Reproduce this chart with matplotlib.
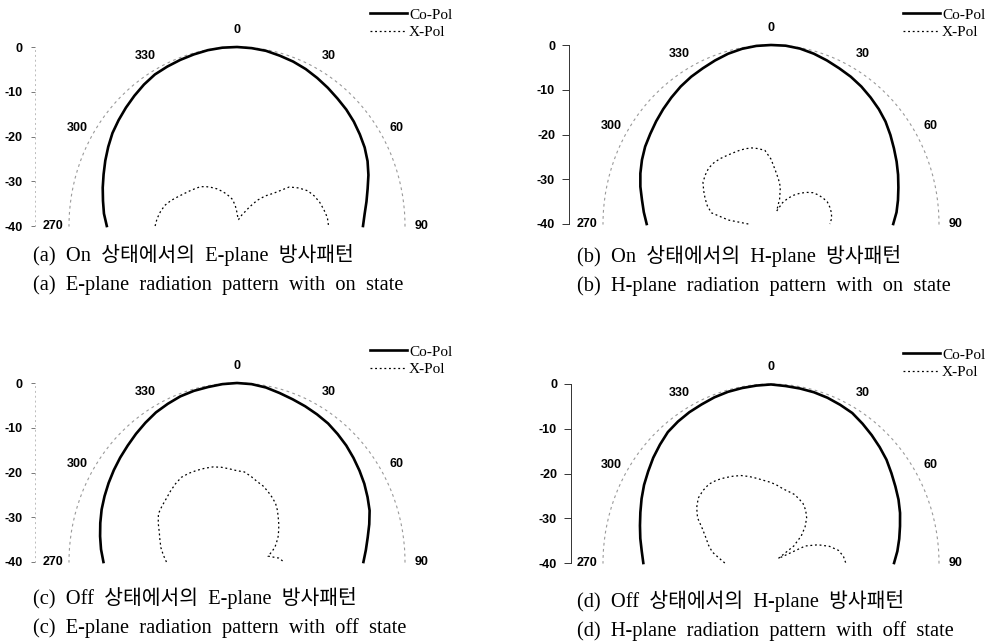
import numpy as np
import matplotlib.pyplot as plt

# angles (deg), 0 = boresight, negative = 270..360 side
angles = [-90, -85, -80, -75, -70, -65, -60, -55, -50, -45, -40, -35, -30,
          -25, -20, -15, -10, -5, 0, 5, 10, 15, 20, 25, 30, 35, 40, 45,
          50, 55, 60, 65, 70, 75, 80, 85, 90]

# Co-pol (dB)
co_a = [-9.0, -8.2, -7.6, -6.9, -6.2, -5.4, -4.6, -3.8, -3.2, -2.6,
        -2.0, -1.4, -0.9, -0.7, -0.5, -0.3, -0.1, 0.0, 0.0, -0.1,
        -0.25, -0.6, -0.9, -1.3, -1.8, -2.3, -2.8, -3.2, -3.7, -4.3,
        -4.9, -5.7, -6.7, -7.8, -8.7, -9.5, -10.0]
co_b = [-10.4, -9.6, -8.8, -7.8, -6.9, -6.1, -5.4, -4.9, -4.3, -3.7,
        -3.1, -2.5, -2.0, -1.6, -1.1, -0.6, -0.25, -0.05, 0.0, 0.0,
        -0.2, -0.6, -1.1, -1.6, -2.0, -2.5, -3.1, -3.7, -4.4, -5.3,
        -6.2, -7.0, -7.8, -8.6, -9.3, -10.0, -10.9]
co_c = [-8.2, -7.5, -6.9, -6.3, -5.7, -5.2, -4.7, -4.2, -3.7, -3.2,
        -2.6, -2.0, -1.4, -1.0, -0.6, -0.4, -0.3, -0.1, 0.0, -0.1,
        -0.4, -0.9, -1.3, -1.6, -1.9, -2.2, -2.7, -3.2, -3.8, -4.4,
        -5.0, -5.7, -6.4, -7.4, -8.4, -9.2, -9.9]
co_d = [-9.6, -9.1, -8.4, -7.7, -6.9, -6.0, -5.1, -4.3, -3.4, -2.6,
        -1.8, -1.4, -1.1, -0.9, -0.6, -0.4, -0.3, -0.2, -0.1, -0.3,
        -0.4, -0.5, -0.7, -1.0, -1.3, -2.0, -2.7, -3.4, -4.1, -5.0,
        -5.8, -6.5, -7.3, -8.2, -9.0, -9.8, -10.7]

# X-pol (dB)
xp_a = [-20.5, -20.9, -21.5, -22.2, -23.3, -24.5, -25.5, -26.3, -27.0, -27.6,
        -28.5, -29.5, -30.4, -31.4, -32.3, -33.2, -34.0, -35.5, -37.0, -38.0,
        -38.5, -38.5, -38.0, -37.3, -36.5, -34.8, -32.5, -30.5, -28.6, -24.8,
        -23.0, -21.4, -20.4, -19.6, -19.0, -18.4, -18.2]
xp_b = [-34.6, -29.8, -25.6, -24.3, -23.3, -22.3, -21.3, -20.9, -20.6, -20.7,
        -21.0, -21.4, -21.7, -21.9, -22.1, -22.4, -22.9, -23.5, -25.5, -28.0,
        -29.8, -31.4, -34.0, -36.8, -34.5, -33.0, -31.6, -30.3, -29.0, -27.8,
        -27.0, -26.3, -25.7, -25.5, -25.4, -25.5, -26.0]
xp_c = [-23.2, -22.4, -21.6, -21.0, -20.3, -19.3, -18.4, -18.2, -18.0, -17.6,
        -17.2, -16.9, -17.1, -17.4, -17.7, -18.0, -18.5, -19.1, -19.6, -19.8,
        -20.6, -21.4, -21.9, -22.6, -23.3, -24.0, -25.0, -26.1, -27.0, -27.9,
        -28.7, -29.6, -30.4, -31.5, -32.5, -30.0, -28.8]
xp_d = [-29.0, -27.6, -25.8, -24.6, -23.5, -22.0, -19.8, -18.4, -17.4, -17.1,
        -17.0, -17.4, -18.0, -18.6, -19.2, -20.0, -20.8, -21.5, -22.0, -22.6,
        -23.2, -23.5, -23.7, -24.2, -24.7, -25.6, -26.8, -28.5, -30.6, -33.4,
        -38.0, -31.0, -28.1, -25.6, -23.7, -22.7, -22.2]

theta_ticks = [-90, -60, -30, 0, 30, 60, 90]
theta_labels = ['270', '300', '330', '0', '30', '60', '90']
r_ticks = [0, -10, -20, -30, -40]

captions = [
    ("(a)  On  상태에서의  E-plane  방사패턴", "(a)  E-plane  radiation  pattern  with  on  state"),
    ("(b)  On  상태에서의  H-plane  방사패턴", "(b)  H-plane  radiation  pattern  with  on  state"),
    ("(c)  Off  상태에서의  E-plane  방사패턴", "(c)  E-plane  radiation  pattern  with  off  state"),
    ("(d)  Off  상태에서의  H-plane  방사패턴", "(d)  H-plane  radiation  pattern  with  off  state"),
]

W, H = 990, 641
serif = ['Liberation Serif', 'Noto Sans CJK KR']
sans_b = dict(family='Liberation Sans', weight='bold', size=9)

# panel layout in pixels (top-left origin): polar centre, scale x, legend anchor, caption pos
panels = [
    dict(co=co_a, xp=xp_a, c=(237, 226), sx=35, solid=False, leg=(370, 8), cap=(33, 255)),
    dict(co=co_b, xp=xp_b, c=(771, 224), sx=569, solid=True, leg=(903, 8), cap=(577, 256)),
    dict(co=co_c, xp=xp_c, c=(237, 562), sx=35, solid=False, leg=(370, 345), cap=(33, 598)),
    dict(co=co_d, xp=xp_d, c=(771, 563), sx=571, solid=True, leg=(903, 348), cap=(577, 601)),
]
A, B = 168, 179  # half-width, height of the half-disc (px)

fig = plt.figure(figsize=(W / 100, H / 100), dpi=100)

for p, cap in zip(panels, captions):
    cx, cy = p['c']
    # polar wedge bbox is padded to a square, so the half-disc sits in the middle half
    ax = fig.add_axes([(cx - A) / W, (H - cy - B / 2) / H, 2 * A / W, 2 * B / H],
                      projection='polar')
    ax.set_theta_zero_location('N')
    ax.set_theta_direction(-1)
    ax.set_thetamin(-90)
    ax.set_thetamax(90)
    ax.set_rlim(-40, 0)
    ax.set_aspect('auto')
    ax.grid(False)
    ax.set_xticks([])
    ax.set_yticks([])
    ax.patch.set_alpha(0)
    for s in ['start', 'end', 'inner']:
        ax.spines[s].set_color('none')
    ax.spines['polar'].set_linestyle((0, (1.5, 4)))
    ax.spines['polar'].set_color('#9a9a9a')
    ax.spines['polar'].set_linewidth(0.8)

    l1, = ax.plot(np.deg2rad(angles), p['co'], color='black', lw=1.9,
                  label='Co-Pol', clip_on=False, zorder=3)
    l2, = ax.plot(np.deg2rad(angles), p['xp'], color='black', lw=0.9,
                  ls=(0, (1.5, 2.2)), label='X-Pol', clip_on=False)

    for t, lab in zip(theta_ticks, theta_labels):
        ax.text(np.deg2rad(t), 3.9, lab, ha='center', va='center',
                clip_on=False, **sans_b)

    # radial scale on the left
    sc = fig.add_axes([p['sx'] / W, (H - cy) / H, 1 / W, B / H])
    sc.set_ylim(-40, 0)
    sc.set_xticks([])
    sc.set_yticks(r_ticks)
    sc.set_yticklabels([str(v) for v in r_ticks], **sans_b)
    sc.patch.set_alpha(0)
    for s in ['right', 'top', 'bottom']:
        sc.spines[s].set_visible(False)
    if p['solid']:
        sc.spines['left'].set_color('#333333')
        sc.spines['left'].set_linewidth(0.7)
        sc.tick_params(axis='y', length=5, width=0.7, pad=5, color='#333333')
    else:
        sc.spines['left'].set_color('#bbbbbb')
        sc.spines['left'].set_linestyle((0, (1, 4)))
        sc.spines['left'].set_linewidth(0.7)
        sc.tick_params(axis='y', length=3, width=0.7, pad=6, color='#777777')

    lx, ly = p['leg']
    fig.legend(handles=[l1, l2], loc='upper left',
               bbox_to_anchor=(lx / W, 1 - ly / H), frameon=False,
               prop=dict(family='Liberation Serif', size=11),
               handlelength=2.4, handletextpad=0.15, labelspacing=0.25,
               borderpad=0, borderaxespad=0)

    x0, y0 = p['cap']
    fig.text(x0 / W, 1 - y0 / H, cap[0], family=serif, size=14.7, va='center')
    fig.text(x0 / W, 1 - (y0 + 30) / H, cap[1], family=serif, size=14.7, va='center')

fig.savefig('out.png', dpi=100)
